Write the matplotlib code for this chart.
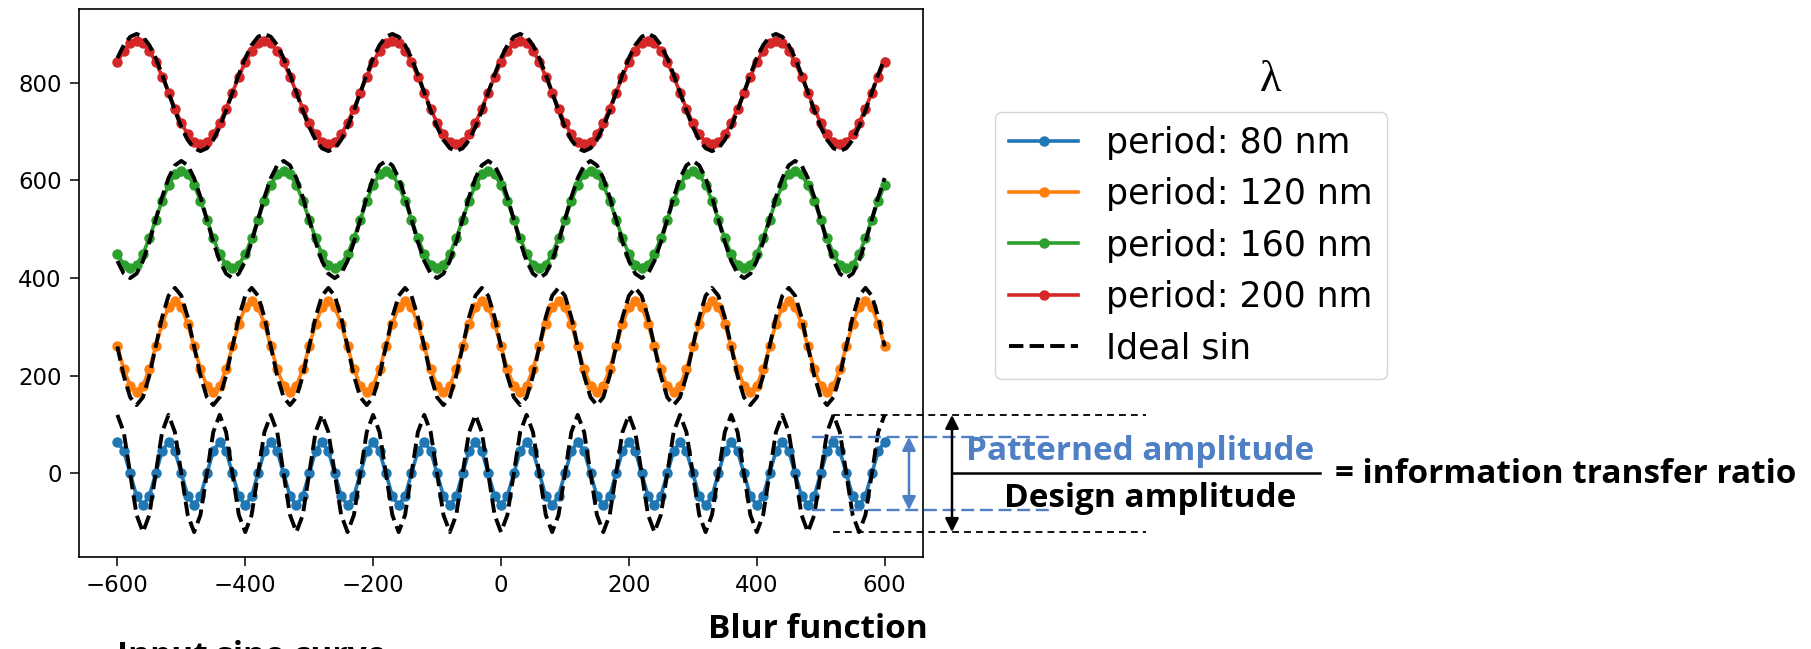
import matplotlib.pyplot as plt
import numpy as np
from matplotlib.transforms import blended_transform_factory

# values
labels = ["period: 80 nm", "period: 120 nm", "period: 160 nm", "period: 200 nm"]
periods = [80, 120, 160, 200]
offsets = [0, 260, 520, 780]
design_amplitude = 120
patterned_amplitude = [65, 93, 100, 106]
crest_at = [-600, -510, -500, -570]
x_first, x_last, x_step = -600, 600, 10
colors = ["#1f77b4", "#ff7f0e", "#2ca02c", "#d62728"]

# levels marked by the dashed guide lines on the right
guide_design = 120
guide_patterned = 75

W, H = 1811, 649
BLUE = "#4f7fc4"


def fx(px):
    return px / W


def fy(py):
    return 1 - py / H


fig = plt.figure(figsize=(W / 100, H / 100), dpi=100)
ax = fig.add_axes([fx(79), fy(557), (923 - 79) / W, (557 - 9) / H])

x = np.arange(x_first, x_last + x_step, x_step)
handles = []
for lab, p, off, amp, c0, col in zip(labels, periods, offsets,
                                     patterned_amplitude, crest_at, colors):
    phase = 2 * np.pi * (x - c0) / p
    h, = ax.plot(x, off + amp * np.cos(phase), marker='o', ms=6.5, lw=2.6,
                 color=col, label=lab)
    handles.append(h)
    ideal, = ax.plot(x, off + design_amplitude * np.cos(phase), ls='--',
                     color='black', lw=2.8, label='Ideal sin')
handles.append(ideal)

ax.tick_params(labelsize=16.5, length=6.5, width=1.1, pad=6)
for s in ax.spines.values():
    s.set_linewidth(1.2)

fig.legend(handles=handles, loc='upper left', bbox_to_anchor=(fx(995), fy(112)),
           borderaxespad=0, fontsize=25, labelspacing=0.5)
fig.text(fx(1271), fy(80), "λ", family='Liberation Serif', fontsize=32,
         ha='center', va='center')

# amplitude guides
tr = blended_transform_factory(fig.transFigure, ax.transData)
for lvl in (guide_design, -guide_design):
    ax.plot([fx(833), fx(1146)], [lvl, lvl], transform=tr, color='black',
            lw=1.3, dashes=(3.8, 2.8), clip_on=False)
for lvl in (guide_patterned, -guide_patterned):
    ax.plot([fx(812), fx(1050)], [lvl, lvl], transform=tr, color=BLUE,
            lw=1.7, dashes=(5.5, 2.4), clip_on=False)
ax.annotate("", xy=(fx(909), -guide_patterned), xytext=(fx(909), guide_patterned),
            xycoords=tr, textcoords=tr, annotation_clip=False,
            arrowprops=dict(arrowstyle='<|-|>', color=BLUE, lw=1.8,
                            mutation_scale=20, shrinkA=0, shrinkB=0))
ax.annotate("", xy=(fx(952), -guide_design), xytext=(fx(952), guide_design),
            xycoords=tr, textcoords=tr, annotation_clip=False,
            arrowprops=dict(arrowstyle='<|-|>', color='black', lw=1.8,
                            mutation_scale=20, shrinkA=0, shrinkB=0))
ax.plot([fx(952), fx(1320)], [0, 0], transform=tr, color='black', lw=1.8,
        clip_on=False)

bold = dict(family='Open Sans', weight='bold', fontsize=24)
fig.text(fx(1140), fy(460), "Patterned amplitude", color=BLUE, ha='center',
         va='baseline', **bold)
fig.text(fx(1150), fy(507), "Design amplitude", color='black', ha='center',
         va='baseline', **bold)
fig.text(fx(1335), fy(483), "= information transfer ratio", color='black',
         ha='left', va='baseline', **bold)
fig.text(fx(708), fy(638), "Blur function", ha='left', va='baseline', **bold)
fig.text(fx(117), fy(640), "Input sine curve", ha='left', va='top', **bold)

fig.savefig("out.png", dpi=100)
